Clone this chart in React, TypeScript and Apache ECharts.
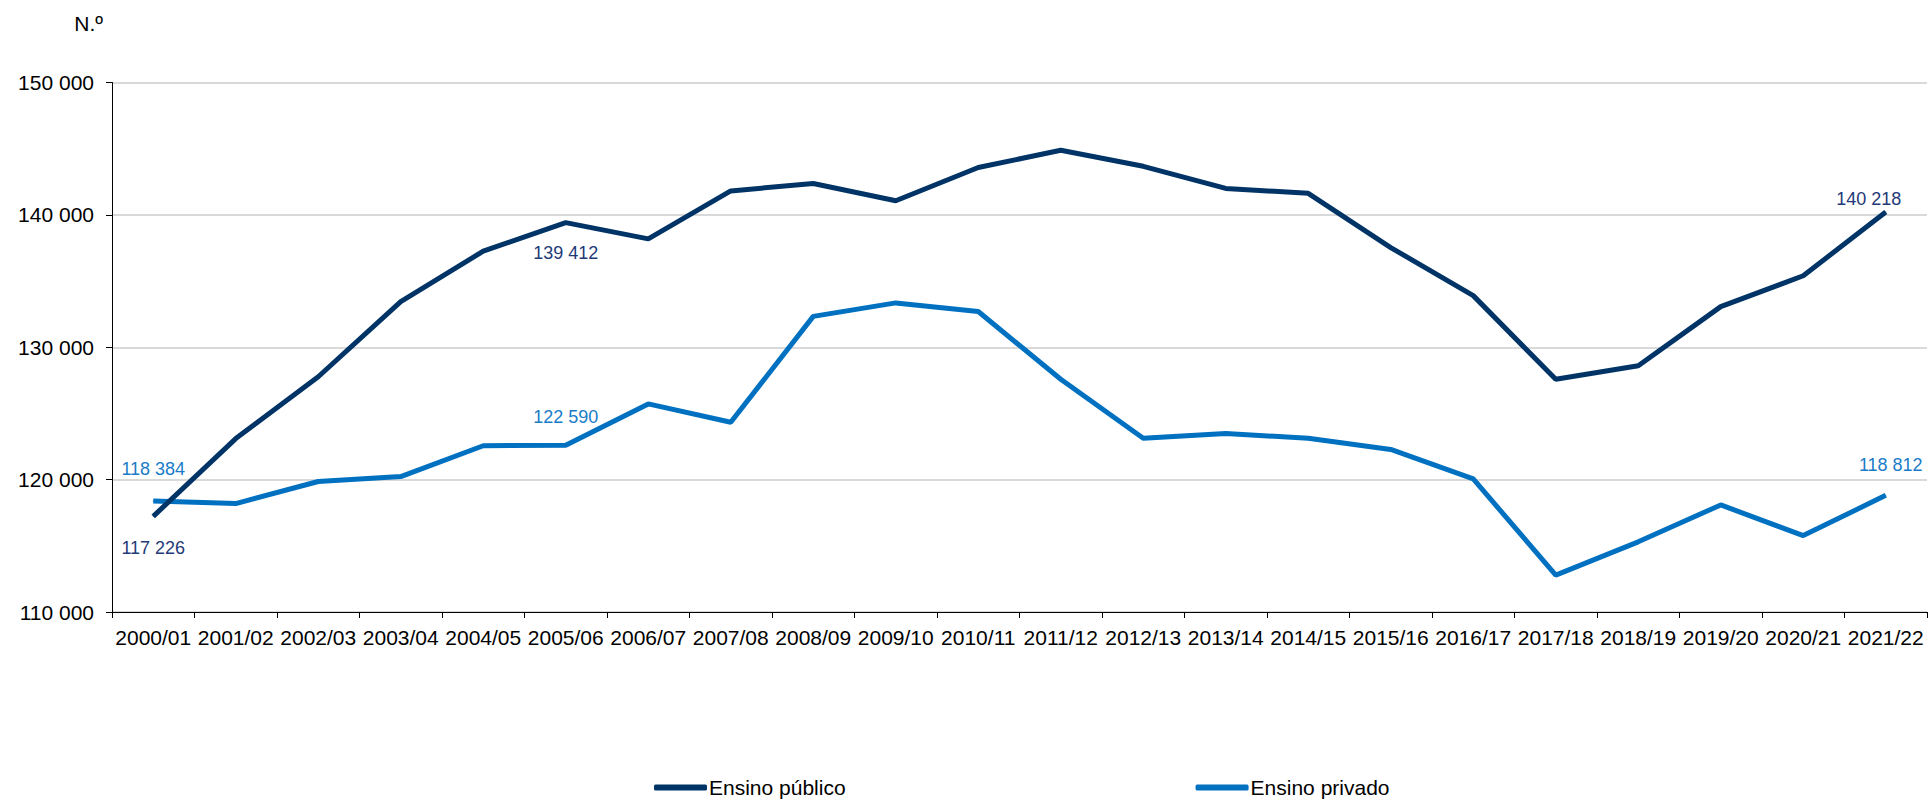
import React, { useEffect, useRef } from "react";
import * as echarts from "echarts";

const categories = [
  "2000/01", "2001/02", "2002/03", "2003/04", "2004/05", "2005/06", "2006/07", "2007/08",
  "2008/09", "2009/10", "2010/11", "2011/12", "2012/13", "2013/14", "2014/15", "2015/16",
  "2016/17", "2017/18", "2018/19", "2019/20", "2020/21", "2021/22",
];

const publicValues = [
  117226, 123100, 127770, 133440, 137260, 139412, 138190, 141810, 142370, 141070, 143580,
  144880, 143670, 142000, 141630, 137530, 133900, 127580, 128600, 133070, 135400, 140218,
];

const privateValues = [
  118384, 118190, 119860, 120230, 122560, 122590, 125720, 124330, 132330, 133350, 132700,
  127580, 123120, 123490, 123120, 122280, 120050, 112790, 115300, 118090, 115770, 118812,
];

const yTicks = { min: 110000, max: 150000, interval: 10000 };

const seriesNames = ["Ensino público", "Ensino privado"];

const fmt = (v: number) => {
  const s = String(Math.round(v));
  return s.replace(/\B(?=(\d{3})+(?!\d))/g, " ");
};

const PUB = "#003366";
const PRIV = "#0070c0";
const PUB_LABEL = "#1f3a78";
const PRIV_LABEL = "#1a7cc8";

function withLabels(values: number[], labels: Record<number, [number, number]>, color: string) {
  return values.map((v, i) => {
    if (labels[i]) {
      return {
        value: v,
        label: {
          show: true,
          position: "inside",
          offset: labels[i],
          color,
          fontSize: 18,
          fontFamily: "Liberation Sans, Arial, sans-serif",
          formatter: (p: any) => fmt(p.value),
        },
      };
    }
    return v;
  });
}

export default function App() {
  const ref = useRef<HTMLDivElement>(null);
  useEffect(() => {
    if (!ref.current) return;
    const chart = echarts.init(ref.current, undefined, { renderer: "svg" });
    const font = "Liberation Sans, Arial, sans-serif";
    chart.setOption({
      animation: false,
      backgroundColor: "#ffffff",
      textStyle: { fontFamily: font },
      grid: { left: 112, right: 3, top: 82.5, bottom: 189, containLabel: false },
      graphic: [
        {
          type: "text",
          x: 103,
          y: 23,
          style: {
            text: "N.º",
            fontSize: 21,
            fontFamily: font,
            fill: "#000",
            textAlign: "right",
            textVerticalAlign: "middle",
          },
        },
      ],
      legend: {
        left: 649,
        top: 772,
        itemGap: 350,
        itemWidth: 53,
        itemHeight: 6,
        textStyle: { fontSize: 21, color: "#000", fontFamily: font, padding: [0, 0, 0, -3] },
        data: [
          { name: seriesNames[0], icon: "roundRect", itemStyle: { color: PUB } },
          { name: seriesNames[1], icon: "roundRect", itemStyle: { color: PRIV } },
        ],
      },
      xAxis: {
        type: "category",
        data: categories,
        boundaryGap: true,
        axisLine: { lineStyle: { color: "#000", width: 1 } },
        axisTick: { show: true, length: 6, lineStyle: { color: "#000" } },
        axisLabel: { color: "#000", fontSize: 21, margin: 15, fontFamily: font, interval: 0 },
      },
      yAxis: {
        type: "value",
        min: yTicks.min,
        max: yTicks.max,
        interval: yTicks.interval,
        axisLine: { show: true, lineStyle: { color: "#000", width: 1 } },
        axisTick: { show: true, length: 6, lineStyle: { color: "#000" } },
        splitLine: { show: true, lineStyle: { color: "#d9d9d9", width: 2 } },
        axisLabel: {
          color: "#000",
          fontSize: 21,
          margin: 18,
          fontFamily: font,
          formatter: (v: number) => fmt(v),
        },
      },
      series: [
        {
          name: seriesNames[0],
          type: "line",
          data: withLabels(publicValues, { 0: [0, 32], 5: [0, 30], 21: [-17, -13] }, PUB_LABEL),
          showSymbol: true,
          symbol: "circle",
          symbolSize: 1,
          itemStyle: { color: PUB },
          lineStyle: { color: PUB, width: 5 },
          z: 3,
        },
        {
          name: seriesNames[1],
          type: "line",
          data: withLabels(privateValues, { 0: [0, -32], 5: [0, -28], 21: [5, -30] }, PRIV_LABEL),
          showSymbol: true,
          symbol: "circle",
          symbolSize: 1,
          itemStyle: { color: PRIV },
          lineStyle: { color: PRIV, width: 5 },
          z: 2,
        },
      ],
    });
    return () => chart.dispose();
  }, []);
  return (
    <div
      ref={ref}
      style={{ position: "fixed", left: 0, top: 0, width: 1930, height: 801 }}
    />
  );
}
